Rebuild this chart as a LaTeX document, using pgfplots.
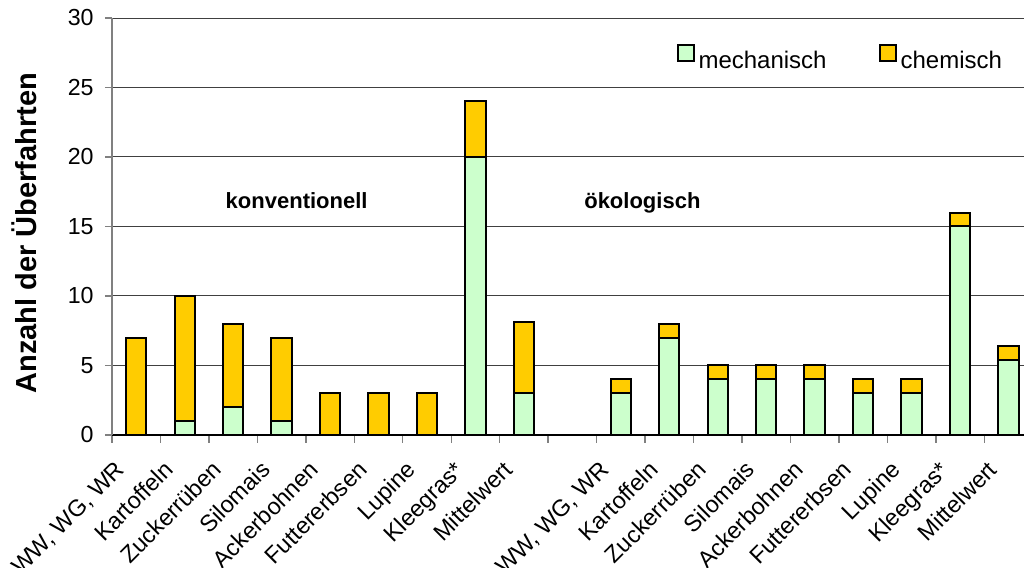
\documentclass[border=0pt]{standalone}
\usepackage{fontspec}
\setmainfont{Liberation Sans}
\usepackage{pgfplots}
\pgfplotsset{compat=1.18}
\definecolor{mechgreen}{HTML}{CCFFCC}
\definecolor{chemyellow}{HTML}{FFCC00}
\definecolor{gridgray}{HTML}{404040}

\begin{document}
\begin{tikzpicture}
\begin{axis}[
  at={(56pt,66.5pt)}, anchor=south west,
  scale only axis, width=456pt, height=208.5pt,
  ybar stacked, bar width=0.42,
  xmin=-0.5, xmax=18.32, ymin=0, ymax=30,
  ytick={0,5,...,30},
  xtick={0,...,18},
  xticklabels={{WW, WG, WR},Kartoffeln,Zuckerrüben,Silomais,Ackerbohnen,Futtererbsen,Lupine,Kleegras*,Mittelwert,{},
               {WW, WG, WR},Kartoffeln,Zuckerrüben,Silomais,Ackerbohnen,Futtererbsen,Lupine,Kleegras*,Mittelwert},
  minor xtick={-0.5,0.5,...,18.5},
  major x tick style={draw=none},
  minor x tick style={gray, line width=0.7pt},
  y tick style={gray, line width=0.7pt},
  minor tick length=4pt,
  major tick length=3.5pt,
  tick align=outside,
  axis x line*=bottom, axis y line*=left,
  x axis line style={-, black, line width=0.8pt},
  y axis line style={-, gray, line width=0.8pt},
  ymajorgrids, grid style={gridgray, line width=0.5pt},
  /pgf/number format/assume math mode=true,
  yticklabel style={font=\fontsize{11.6}{13}\selectfont, anchor=east, inner sep=0pt, xshift=-5.5pt},
  xticklabel style={font=\fontsize{11.7}{13}\selectfont, xshift=-11pt, yshift=-8.5pt, rotate=45, anchor=north east, inner sep=0pt},
  ylabel={Anzahl der Überfahrten},
  ylabel style={font=\bfseries\fontsize{14.5}{16}\selectfont, at={(axis description cs:-0.0965,0.484)}, anchor=center},
  legend columns=2,
  legend style={at={(axis description cs:0.612,0.90)}, anchor=west, draw=none, fill=none,
                font=\fontsize{12}{14}\selectfont,
                /tikz/every even column/.append style={column sep=24pt}},
  legend image code/.code={\draw[#1, line width=1pt] (0pt,0.5pt) rectangle (8pt,8.5pt);},
]
% mechanische Überfahrten (unten)
\addplot[fill=mechgreen, draw=black, line width=1pt] coordinates {
  (0,0) (1,1) (2,2) (3,1) (4,0) (5,0) (6,0) (7,20) (8,3)
  (10,3) (11,7) (12,4) (13,4) (14,4) (15,3) (16,3) (17,15) (18,5.375)
};
\addlegendentry{mechanisch}
% chemische Überfahrten (oben)
\addplot[fill=chemyellow, draw=black, line width=1pt] coordinates {
  (0,7) (1,9) (2,6) (3,6) (4,3) (5,3) (6,3) (7,4) (8,5.125)
  (10,1) (11,1) (12,1) (13,1) (14,1) (15,1) (16,1) (17,1) (18,1)
};
\addlegendentry{chemisch}
\node[font=\bfseries\fontsize{11}{13}\selectfont, anchor=base] at (axis cs:3.31,16.3) {konventionell};
\node[font=\bfseries\fontsize{11}{13}\selectfont, anchor=base] at (axis cs:10.445,16.3) {ökologisch};
\end{axis}
\pgfresetboundingbox
\path[use as bounding box] (0,0) rectangle (512pt,284pt);
\end{tikzpicture}
\end{document}
